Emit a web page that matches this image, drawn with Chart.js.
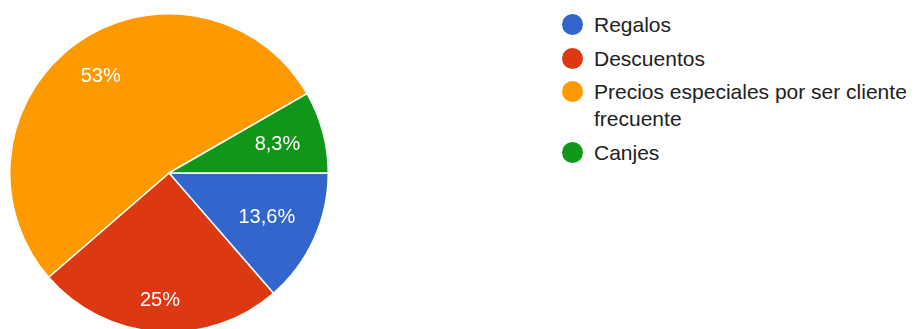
<!DOCTYPE html>
<html>
<head>
<meta charset="utf-8">
<script src="https://cdn.jsdelivr.net/npm/chart.js@4"></script>
<style>
  html, body { margin: 0; padding: 0; background: #fff; overflow: hidden; }
  body { width: 914px; height: 329px; position: relative; font-family: "Liberation Sans", Arial, sans-serif; }
  #pieBox { position: absolute; left: 9px; top: 13px; width: 320px; height: 320px; }
  #leyenda { position: absolute; left: 562px; top: 11px; width: 345px; }
  .item { display: flex; align-items: flex-start; margin-bottom: 6.5px; }
  .punto { width: 21px; height: 21px; border-radius: 50%; flex: none; margin-top: 3px; margin-right: 11px; }
  .texto { font-size: 21px; line-height: 27px; color: #212121; }
</style>
</head>
<body>
<div id="pieBox"><canvas id="grafico"></canvas></div>
<div id="leyenda"></div>
<script>
// categorias y porcentajes
const categorias = ['Regalos', 'Descuentos', 'Precios especiales por ser cliente frecuente', 'Canjes'];
const porcentajes = [13.6, 25, 53, 8.3];
const colores = ['#3366cc', '#dc3912', '#ff9900', '#109618'];

// que tan lejos del centro va cada etiqueta (fraccion del radio)
const distEtiqueta = [0.675, 0.80, 0.74, 0.705];

const fmt = (v) => String(v).replace('.', ',') + '%';

// etiquetas de porcentaje dentro de cada porcion
const etiquetasPie = {
  id: 'etiquetasPie',
  afterDatasetsDraw(chart) {
    const ctx = chart.ctx;
    const meta = chart.getDatasetMeta(0);
    ctx.save();
    ctx.fillStyle = '#fff';
    ctx.font = '20px "Liberation Sans", Arial, sans-serif';
    ctx.textAlign = 'center';
    ctx.textBaseline = 'middle';
    meta.data.forEach((arc, i) => {
      const p = arc.getProps(['x', 'y', 'startAngle', 'endAngle', 'outerRadius'], true);
      const mid = (p.startAngle + p.endAngle) / 2;
      const r = p.outerRadius * distEtiqueta[i];
      ctx.fillText(fmt(chart.data.datasets[0].data[i]), p.x + Math.cos(mid) * r, p.y + Math.sin(mid) * r);
    });
    ctx.restore();
  }
};

new Chart(document.getElementById('grafico').getContext('2d'), {
  type: 'pie',
  data: {
    labels: categorias,
    datasets: [{
      data: porcentajes,
      backgroundColor: colores,
      borderColor: '#ffffff',
      borderWidth: 1.5
    }]
  },
  options: {
    responsive: true,
    maintainAspectRatio: false,
    animation: false,
    rotation: 90,
    layout: { padding: 0 },
    plugins: {
      legend: { display: false },
      tooltip: { enabled: false }
    }
  },
  plugins: [etiquetasPie]
});

// leyenda a la derecha
const leyenda = document.getElementById('leyenda');
categorias.forEach((c, i) => {
  const item = document.createElement('div');
  item.className = 'item';
  item.innerHTML = '<span class="punto" style="background:' + colores[i] + '"></span><span class="texto">' + c + '</span>';
  leyenda.appendChild(item);
});
</script>
</body>
</html>
